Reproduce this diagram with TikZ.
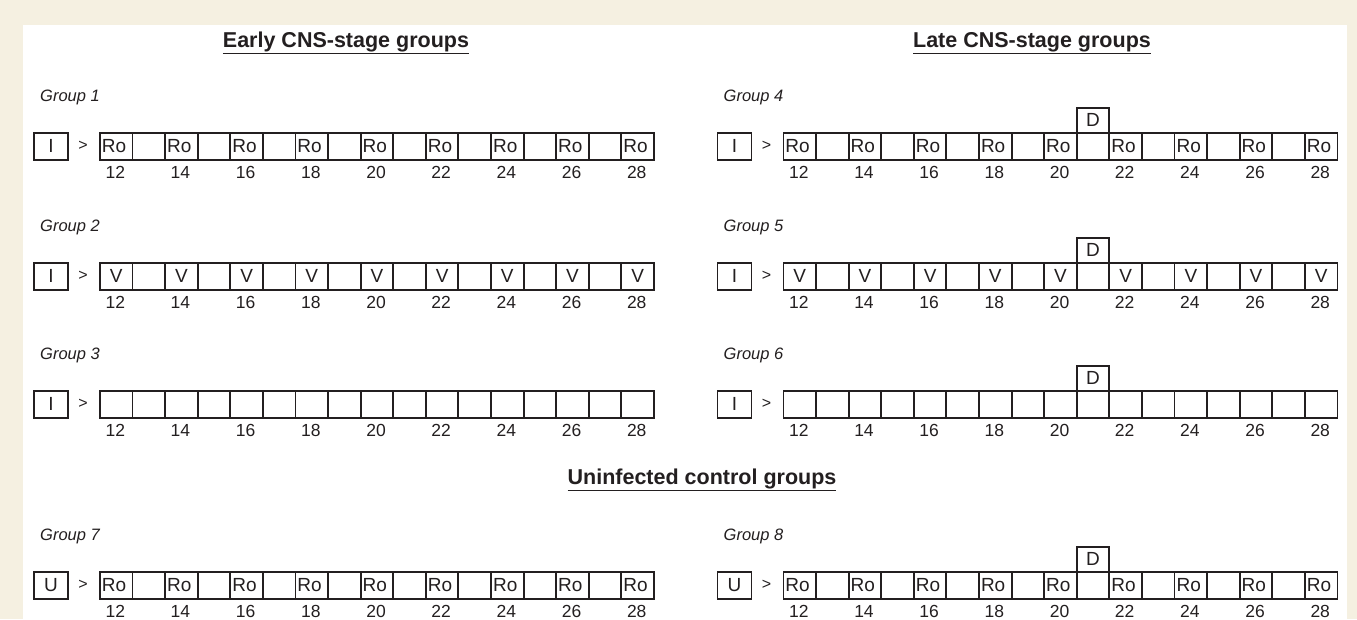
\documentclass[tikz,border=0pt]{standalone}
\usepackage{fontspec}
\setmainfont{Liberation Sans}
\definecolor{cream}{HTML}{F5F0E1}
\definecolor{ink}{HTML}{231F20}
\newcommand{\cw}{32.59}
% #1 name, #2 x offset, #3 strip top, #4 box letter, #5 odd-cell text, #6 odd-cell style, #7 D flag, #8 group number
\newcommand{\grouprow}[8]{%
  \node[grplab] (#1lab) at (40+#2, #3-35) {Group #8};
  \node[ibox] (#1i) at (33+#2, #3) {#4};
  \node[gtsign] (#1gt) at (83+#2, #3+13.5) {>};
  \foreach \k in {1,...,17} {
    \pgfmathtruncatemacro{\odd}{mod(\k,2)}
    \pgfmathsetmacro{\cx}{99+#2+(\k-1)*\cw}
    \ifnum\odd=1
      \node[#6] (#1c\k) at (\cx, #3) {#5};
      \pgfmathtruncatemacro{\day}{11+\k}
      \node[daynum] (#1n\k) at (\cx+\cw/2, #3+40) {\day};
    \else
      \node[vcell] (#1c\k) at (\cx, #3) {};
    \fi
  }
  \ifnum#7=1
    \node[dbox] (#1d) at (99+#2+9*\cw, #3-25) {D};
  \fi
}
\begin{document}
\begin{tikzpicture}[x=1pt,y=-1pt,
  cell/.style={draw=ink, line width=1.9pt, minimum width=\cw pt, minimum height=27pt,
    inner ysep=0pt, anchor=north west, font=\fontsize{19}{19}\selectfont, text=ink},
  rocell/.style={cell, inner xsep=2pt, text width=\cw pt-4pt, align=left},
  vcell/.style={cell, inner xsep=0pt},
  ibox/.style={draw=ink, line width=1.9pt, minimum width=34pt, minimum height=27pt,
    inner sep=0pt, anchor=north west, font=\fontsize{19}{19}\selectfont, text=ink},
  dbox/.style={draw=ink, line width=1.9pt, minimum width=\cw pt, minimum height=25pt,
    inner sep=0pt, anchor=north west, font=\fontsize{19}{19}\selectfont, text=ink},
  gtsign/.style={inner sep=0pt, font=\fontsize{16}{16}\selectfont, text=ink},
  daynum/.style={inner sep=0pt, font=\fontsize{17.5}{17.5}\selectfont, text=ink},
  grplab/.style={inner sep=0pt, anchor=west, font=\fontsize{16.5}{16.5}\selectfont\itshape, text=ink},
  title/.style={inner sep=0pt, font=\fontsize{21.5}{21.5}\selectfont\bfseries, text=ink}]
\useasboundingbox (0,0) rectangle (1357,619);
\fill[cream] (0,0) rectangle (1357,619);
\fill[white] (23,25) rectangle (1347,619);
\node[title] (tearly) at (346,43) {\underline{Early CNS-stage groups}};
\node[title] (tlate) at (1032,43) {\underline{Late CNS-stage groups}};
\node[title] (tun) at (702,480) {\underline{Uninfected control groups}};
\grouprow{ga}{0}{132}{I}{Ro}{rocell}{0}{1}
\grouprow{gb}{0}{262}{I}{V}{vcell}{0}{2}
\grouprow{gc}{0}{390}{I}{}{vcell}{0}{3}
\grouprow{gg}{0}{571}{U}{Ro}{rocell}{0}{7}
\grouprow{gd}{683.5}{132}{I}{Ro}{rocell}{1}{4}
\grouprow{ge}{683.5}{262}{I}{V}{vcell}{1}{5}
\grouprow{gf}{683.5}{390}{I}{}{vcell}{1}{6}
\grouprow{gh}{683.5}{571}{U}{Ro}{rocell}{1}{8}
\end{tikzpicture}
\end{document}
